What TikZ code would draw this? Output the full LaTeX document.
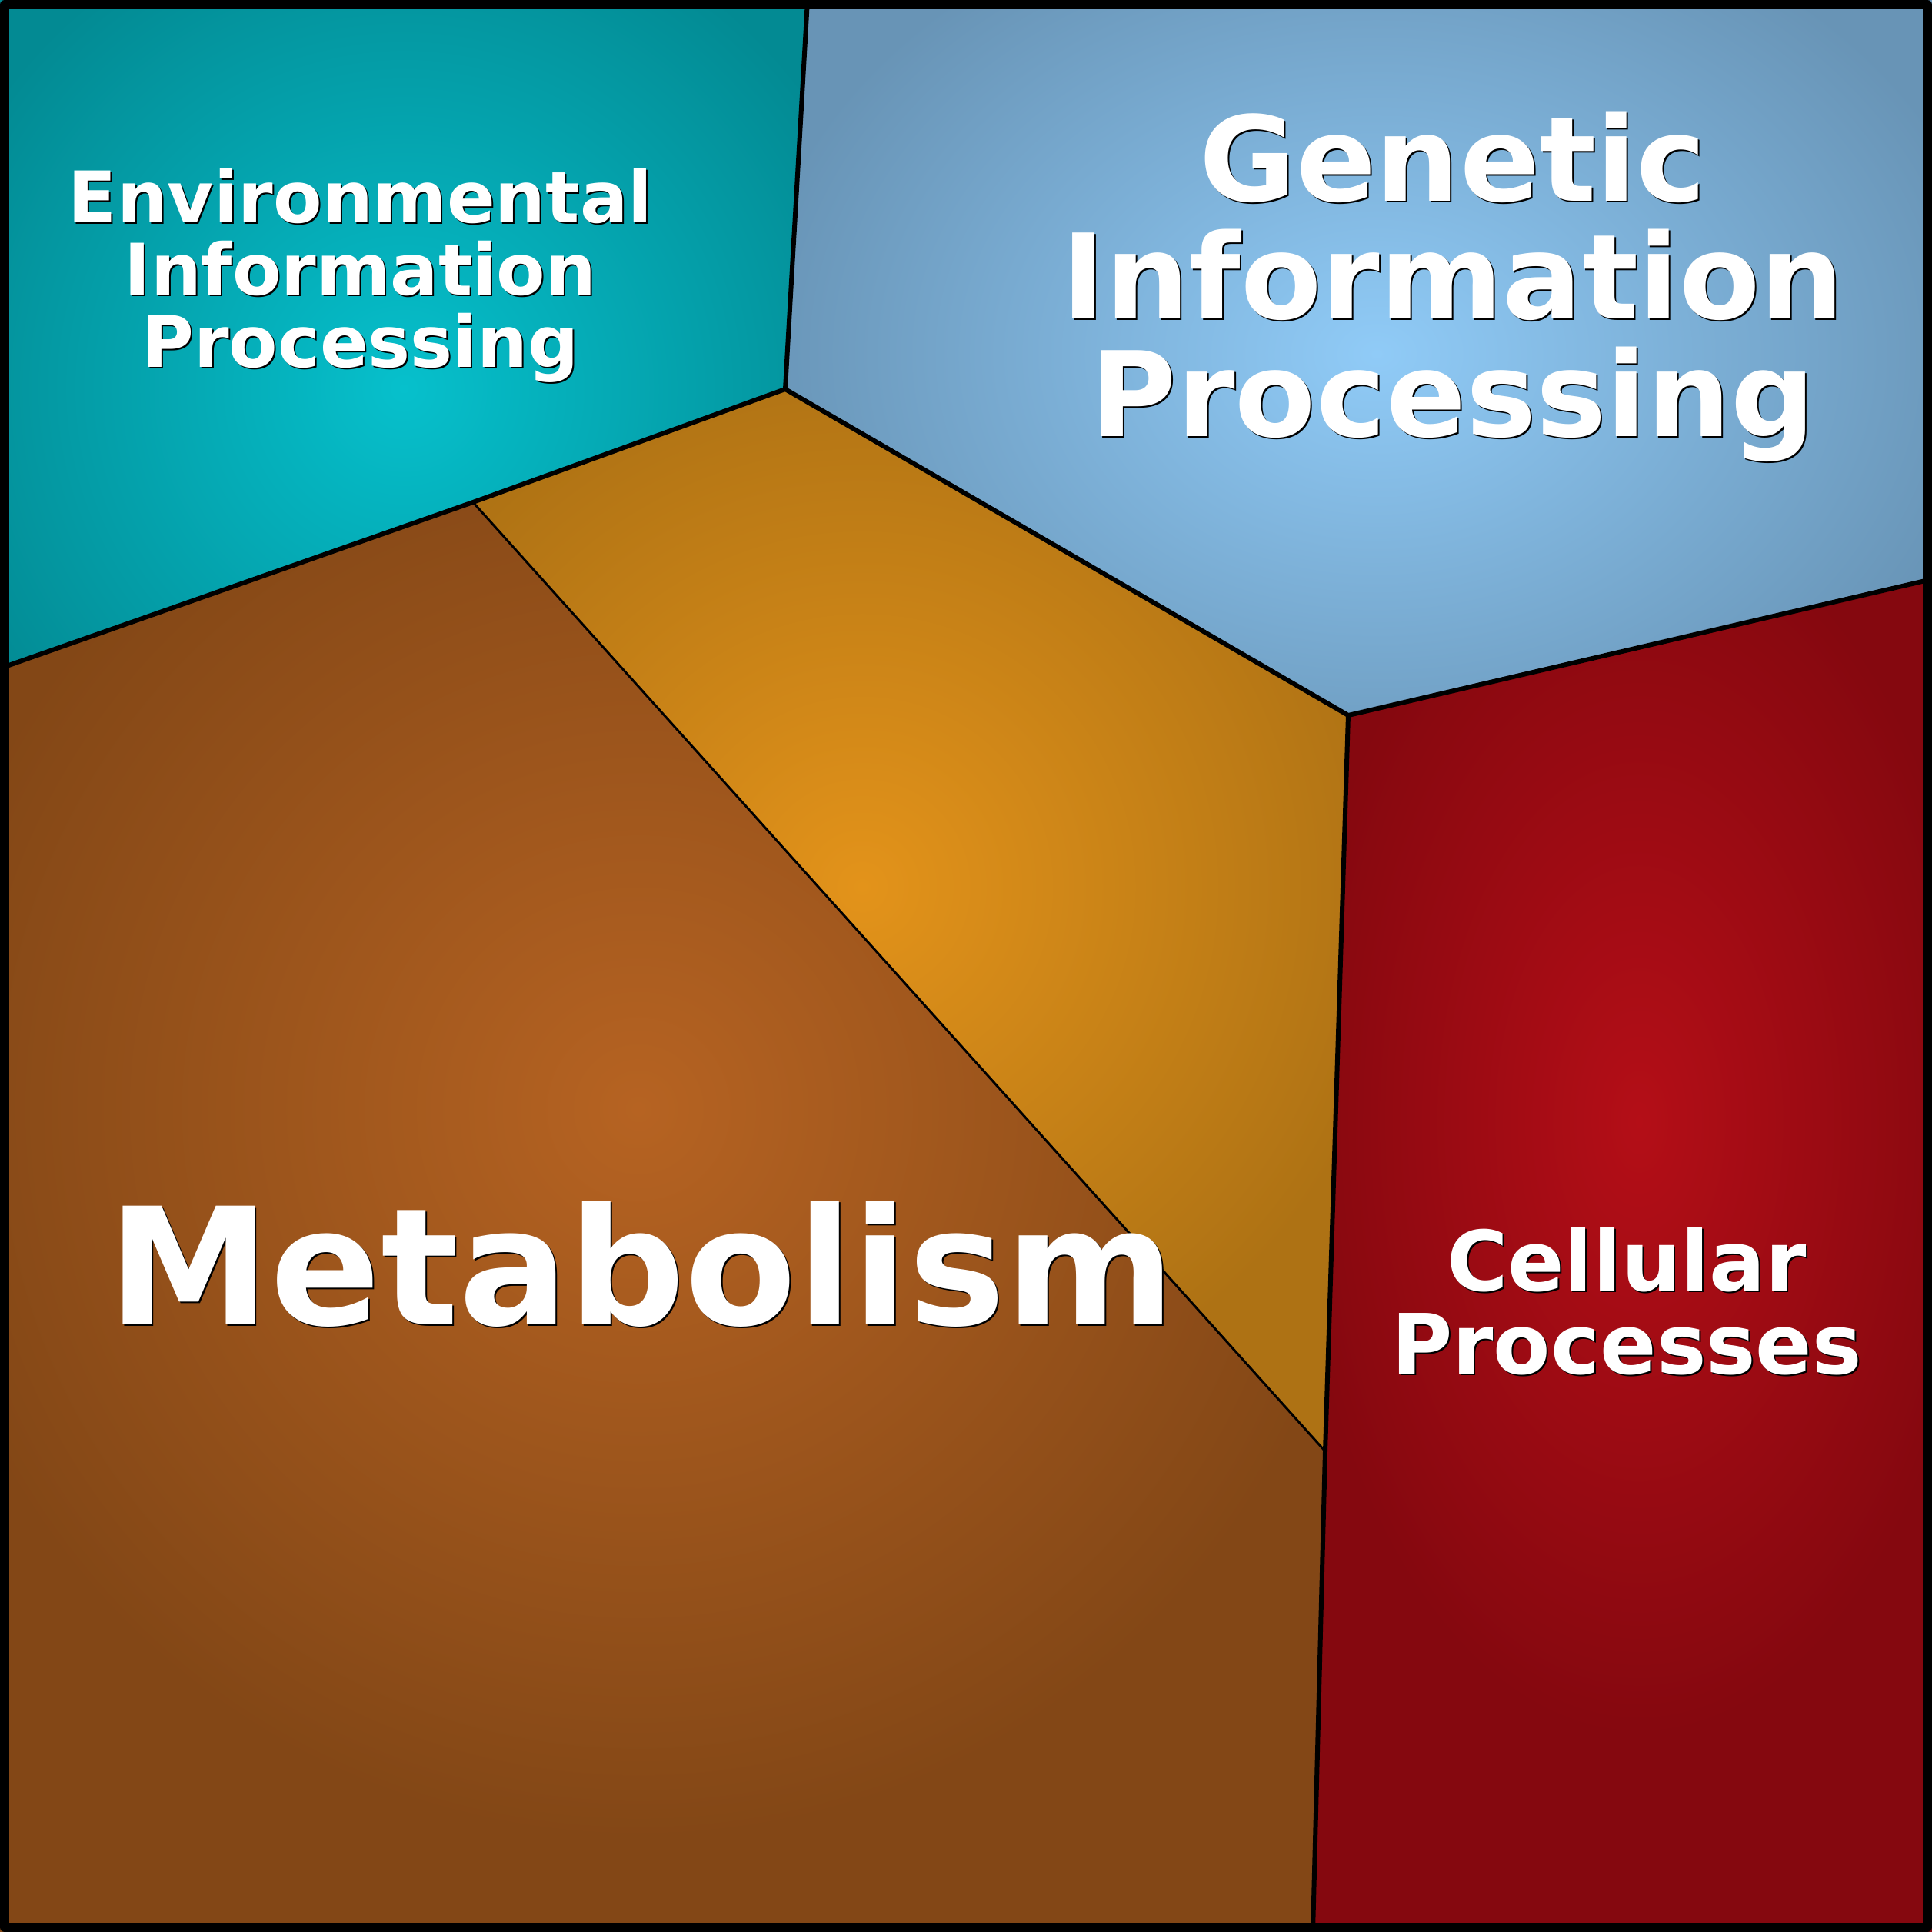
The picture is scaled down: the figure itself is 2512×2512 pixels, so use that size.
\documentclass[tikz,border=0pt]{standalone}
\usepackage{fontspec}
\setmainfont{DejaVu Sans}

\definecolor{envin}{HTML}{06C0CC}
\definecolor{envout}{HTML}{038A93}
\definecolor{genin}{HTML}{90CBF7}
\definecolor{genout}{HTML}{6894B6}
\definecolor{orain}{HTML}{E3931A}
\definecolor{oraout}{HTML}{AE7214}
\definecolor{metin}{HTML}{B66322}
\definecolor{metout}{HTML}{834716}
\definecolor{celin}{HTML}{B40E17}
\definecolor{celout}{HTML}{85080F}

% radial glow, flat outer colour from 25bp on (= rim of the shaded circle)
\pgfdeclareradialshading[glowin,glowout]{glow}{\pgfpointorigin}{color(0bp)=(glowin); color(25bp)=(glowout); color(50bp)=(glowout)}

\begin{document}
\begin{tikzpicture}[x=0.01cm,y=-0.01cm]

	\tikzstyle{border}=[draw=black,line width=1.7pt,line join=round]
	\tikzstyle{thinborder}=[draw=black,line width=0.85pt,line join=round]
	\tikzstyle{title}=[text=white,font=\bfseries,align=center,anchor=base,inner sep=0pt]
	\tikzstyle{titleshade}=[title,text=black]

	\useasboundingbox (0,0) rectangle (2512,2512);

	\coordinate (nw) at (0,0);
	\coordinate (ne) at (2512,0);
	\coordinate (se) at (2512,2512);
	\coordinate (sw) at (0,2512);
	\coordinate (top) at (1050,0);
	\coordinate (gj) at (1021,506);
	\coordinate (mj) at (615,653);
	\coordinate (left) at (0,869);
	\coordinate (cj) at (1753,930);
	\coordinate (right) at (2512,753);
	\coordinate (oj) at (1723,1887);
	\coordinate (bot) at (1707,2512);

	% Environmental
	\begin{scope}
		\clip (nw) -- (top) -- (gj) -- (mj) -- (left) -- cycle;
		\fill[envout] (nw) rectangle (se);
		\colorlet{glowin}{envin}\colorlet{glowout}{envout}
		\shade[shading=glow] (525,505) circle (650);
	\end{scope}

	% Genetic
	\begin{scope}
		\clip (top) -- (ne) -- (right) -- (cj) -- (gj) -- cycle;
		\fill[genout] (nw) rectangle (se);
		\colorlet{glowin}{genin}\colorlet{glowout}{genout}
		\shade[shading=glow] (1790,460) ellipse (820 and 620);
	\end{scope}

	% unlabelled orange wedge
	\begin{scope}
		\clip (mj) -- (gj) -- (cj) -- (oj) -- cycle;
		\fill[oraout] (nw) rectangle (se);
		\colorlet{glowin}{orain}\colorlet{glowout}{oraout}
		\shade[shading=glow] (1121,1153) circle (710);
	\end{scope}

	% Metabolism
	\begin{scope}
		\clip (left) -- (mj) -- (oj) -- (bot) -- (sw) -- cycle;
		\fill[metout] (nw) rectangle (se);
		\colorlet{glowin}{metin}\colorlet{glowout}{metout}
		\shade[shading=glow] (830,1442) circle (950);
	\end{scope}

	% Cellular
	\begin{scope}
		\clip (cj) -- (right) -- (se) -- (bot) -- (oj) -- cycle;
		\fill[celout] (nw) rectangle (se);
		\colorlet{glowin}{celin}\colorlet{glowout}{celout}
		\shade[shading=glow] (2131,1458) ellipse (450 and 800);
	\end{scope}

	\draw[border] (top) -- (gj) -- (mj) -- (left);
	\draw[border] (gj) -- (cj) -- (right);
	\draw[border] (cj) -- (oj) -- (bot);
	\draw[thinborder] (mj) -- (oj);
	\draw[draw=black,line width=3.4pt,line join=round] (6,6) rectangle (2506,2506);

	\node[titleshade,font=\bfseries\fontsize{26.3pt}{26.6pt}\selectfont] (envsh) at (470.5,479) {Environmental\\Information\\Processing};
	\node[title,font=\bfseries\fontsize{26.3pt}{26.6pt}\selectfont] (env) at (468.5,477) {Environmental\\Information\\Processing};

	\node[titleshade,font=\bfseries\fontsize{43.6pt}{43.4pt}\selectfont] (gensh) at (1891,569) {Genetic\\Information\\Processing};
	\node[title,font=\bfseries\fontsize{43.6pt}{43.4pt}\selectfont] (gen) at (1889,567) {Genetic\\Information\\Processing};

	\node[titleshade,font=\bfseries\fontsize{60.2pt}{60pt}\selectfont] (metsh) at (836.5,1724) {Metabolism};
	\node[title,font=\bfseries\fontsize{60.2pt}{60pt}\selectfont] (met) at (834.5,1722) {Metabolism};

	\node[titleshade,font=\bfseries\fontsize{30.8pt}{30.7pt}\selectfont] (celsh) at (2117,1788) {Cellular\\Processes};
	\node[title,font=\bfseries\fontsize{30.8pt}{30.7pt}\selectfont] (cel) at (2115,1786) {Cellular\\Processes};

\end{tikzpicture}
\end{document}
